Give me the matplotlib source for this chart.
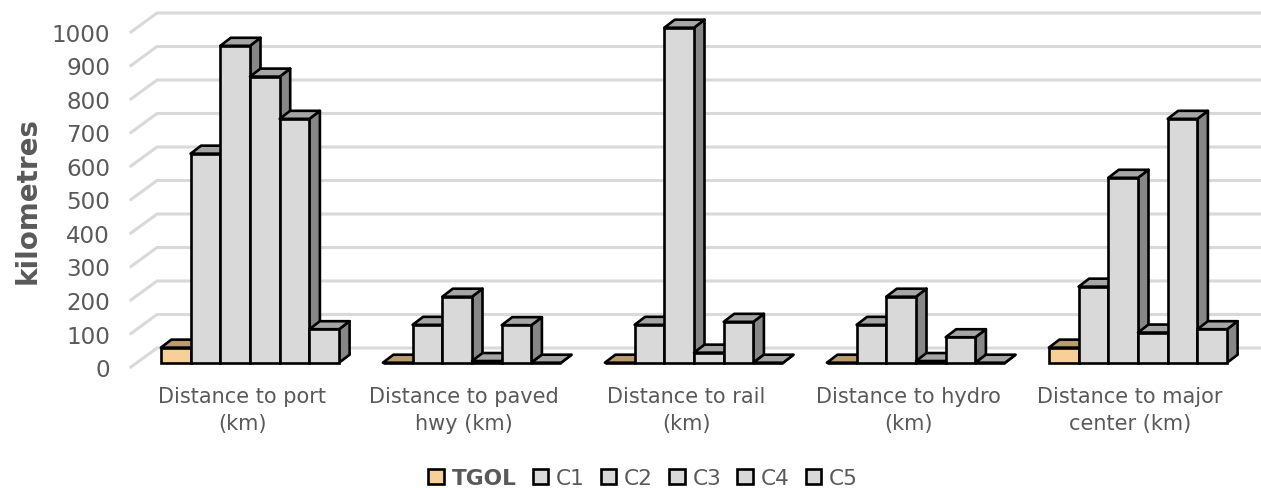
import matplotlib
matplotlib.use("Agg")
import matplotlib.pyplot as plt
from matplotlib.patches import Polygon, Patch

categories = ["Distance to port\n(km)", "Distance to paved\nhwy (km)", "Distance to rail\n(km)",
              "Distance to hydro\n(km)", "Distance to major\ncenter (km)"]
series_names = ["TGOL", "C1", "C2", "C3", "C4", "C5"]
TGOL = [45, 0, 0, 0, 45]
C1 = [624, 113, 113, 113, 227]
C2 = [946, 197, 1000, 197, 552]
C3 = [854, 5, 30, 5, 90]
C4 = [728, 112, 122, 76, 728]
C5 = [100, 0, 0, 0, 100]
all_series = [TGOL, C1, C2, C3, C4, C5]
yticks = list(range(0, 1001, 100))

W, H = 1261, 489
plane_l, plane_r = 131, 1241
y0_px, y1000_px = 368, 33
FRONT = {"TGOL": "#f7d097", "other": "#d9d9d9"}
TOP = {"TGOL": "#b99c6e", "other": "#a6a6a6"}
SIDE = {"TGOL": "#8a7350", "other": "#878787"}
TXT = "#595959"
plt.rcParams["font.family"] = ["DejaVu Sans"]

fig = plt.figure(figsize=(W / 100, H / 100), dpi=100)
ax = fig.add_axes([plane_l / W, 1 - y0_px / H, (plane_r - plane_l) / W, (y0_px - y1000_px) / H])
ax.set_xlim(-0.5, 4.5)
ax.set_ylim(0, 1000)
for s in ax.spines.values():
    s.set_visible(False)

xu = 5 / (plane_r - plane_l)
yu = 1000 / (y0_px - y1000_px)

gx, gy = 26 * xu, 19 * yu
for v in yticks:
    ax.plot([-0.5, -0.5 + gx, 4.5 + gx + 20 * xu], [v, v + gy, v + gy], color="#d9d9d9", lw=2.2,
            clip_on=False, zorder=1, solid_joinstyle="miter")

off_x, off_y = 8 * xu, 4.3 * yu
dx, dy = 10.5 * xu, 8 * yu
bw = 29.7 * xu
lw = 1.9
z = 2
for ci in range(len(categories)):
    for si, vals in enumerate(all_series):
        key = "TGOL" if si == 0 else "other"
        v = vals[ci]
        left = ci + off_x + (si - 3) * bw
        base = off_y
        top = v + off_y
        side = Polygon([(left + bw, base), (left + bw + dx, base + dy), (left + bw + dx, top + dy), (left + bw, top)],
                       closed=True, fc=SIDE[key], ec="black", lw=lw, joinstyle="round", clip_on=False, zorder=z)
        roof = Polygon([(left, top), (left + dx, top + dy), (left + bw + dx, top + dy), (left + bw, top)],
                       closed=True, fc=TOP[key], ec="black", lw=lw, joinstyle="round", clip_on=False, zorder=z + 0.1)
        ax.add_patch(side)
        ax.add_patch(roof)
        ax.bar(left, v, width=bw, bottom=base, align="edge", color=FRONT[key], edgecolor="black",
               linewidth=lw, clip_on=False, zorder=z + 0.2)
        z += 1

ax.set_yticks(yticks)
ax.set_yticklabels([str(v) for v in yticks], fontsize=16.6, color=TXT)
ax.tick_params(axis="y", length=0, pad=15)
ax.set_xticks(range(len(categories)))
ax.set_xticklabels(categories, fontsize=15, color=TXT, linespacing=1.38)
ax.tick_params(axis="x", length=0, pad=14)
ax.set_ylabel("kilometres", fontsize=20, fontweight="bold", color=TXT, va="center")
ax.yaxis.set_label_coords(28 / W, 1 - 200 / H, transform=fig.transFigure)

handles = [Patch(fc=FRONT["TGOL" if i == 0 else "other"], ec="black", lw=1.9) for i in range(6)]
leg = fig.legend(handles, series_names, loc="center", bbox_to_anchor=(643 / W, 1 - 479 / H), ncol=6,
                 frameon=False, fontsize=15.6, handlelength=0.72, handleheight=0.72, handletextpad=0.35,
                 columnspacing=0.75, labelcolor=TXT, borderpad=0, borderaxespad=0)
leg.get_texts()[0].set_fontweight("bold")

fig.savefig("out.png", dpi=100)
